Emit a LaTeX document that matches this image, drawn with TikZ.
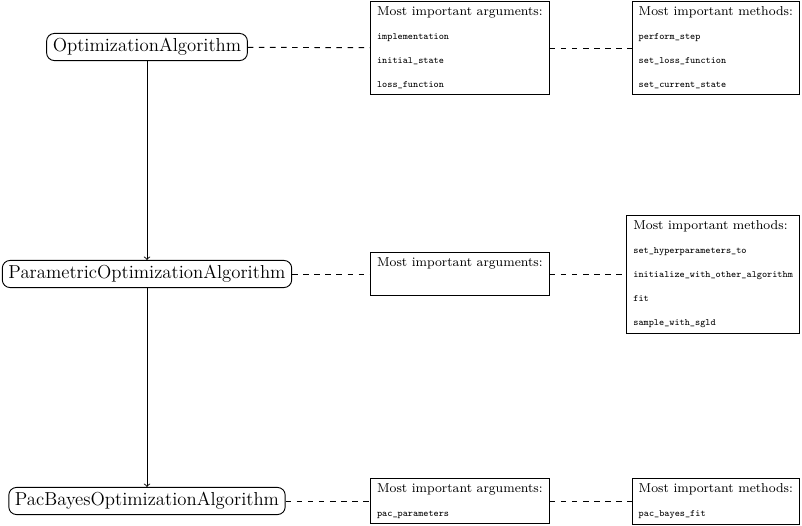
\documentclass[tikz,border=0pt]{standalone}
\usepackage{tikz}
\usetikzlibrary{arrows}
\newcommand{\mname}[1]{{\fontsize{6.3}{15.6}\selectfont\ttfamily #1}}

\begin{document}
\begin{tikzpicture}[x=0.65pt,y=-0.65pt,line width=0.6pt,
  cls/.style={draw,rounded corners=5pt,font=\fontsize{12.2}{15}\selectfont,inner xsep=4pt,inner ysep=3.2pt},
  info/.style={draw,align=left,font=\fontsize{8.4}{15.6}\selectfont,inner xsep=4.3pt,inner ysep=3.5pt},
  link/.style={dash pattern=on 3.6pt off 3.6pt}]
\useasboundingbox (0,0) rectangle (802,526);

\node (OA) at (147,47) [cls] {OptimizationAlgorithm};
\node (POA) at (147,274) [cls] {ParametricOptimizationAlgorithm};
\node (PBA) at (147,501) [cls] {PacBayesOptimizationAlgorithm};

\node (A1) at (370,48) [info,anchor=west] {Most important arguments:\\ \mname{implementation}\\ \mname{initial\_state}\\ \mname{loss\_function}};
\node (A2) at (370,274) [info,anchor=west] {Most important arguments:\\ \mbox{}};
\node (A3) at (370,501) [info,anchor=west] {Most important arguments:\\ \mname{pac\_parameters}};

\node (M1) at (800,48) [info,anchor=east] {Most important methods:\\ \mname{perform\_step}\\ \mname{set\_loss\_function}\\ \mname{set\_current\_state}};
\node (M2) at (800,274) [info,anchor=east] {Most important methods:\\ \mname{set\_hyperparameters\_to}\\ \mname{initialize\_with\_other\_algorithm}\\ \mname{fit}\\ \mname{sample\_with\_sgld}};
\node (M3) at (800,501) [info,anchor=east] {Most important methods:\\ \mname{pac\_bayes\_fit}};

\draw [->] (OA) to (POA);
\draw [->] (POA) to (PBA);
\draw [link] (OA) to (A1);
\draw [link] (A1) to (M1);
\draw [link] (POA) to (A2);
\draw [link] (A2) to (M2);
\draw [link] (PBA) to (A3);
\draw [link] (A3) to (M3);
\end{tikzpicture}
\end{document}
